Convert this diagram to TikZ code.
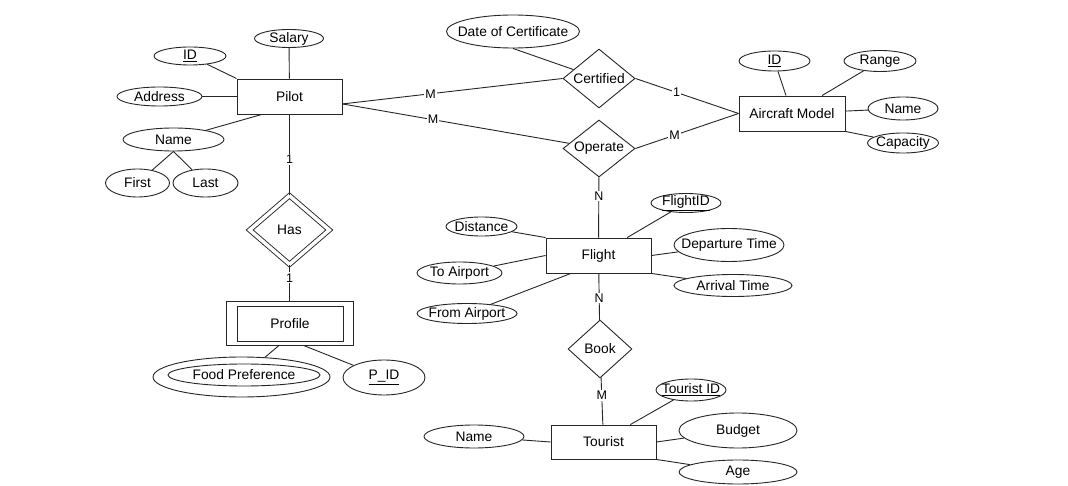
\documentclass[tikz,border=0pt]{standalone}
\usepackage{fontspec}
\setmainfont{Liberation Sans}
\usetikzlibrary{shapes.geometric}
\newcommand\mainsz{\fontsize{13.8}{16}\selectfont}
\newcommand\cardsz{\fontsize{12.5}{14}\selectfont}
\tikzset{
  ln/.style={draw=black!85, line width=0.9pt},
  ent/.style={ln, rectangle, minimum width=105pt, minimum height=35pt, inner sep=0pt},
  att/.style={ln, ellipse, inner sep=0pt},
  rel/.style={ln, diamond, inner sep=0pt},
  card/.style={fill=white, inner sep=1pt, font=\cardsz},
  conn/.style={ln},
  every node/.style={font=\mainsz, text=black}
}
\begin{document}
\begin{tikzpicture}[x=1pt,y=-1pt]
\fill[white] (0,0) rectangle (1068,486);
\useasboundingbox (0,0) rectangle (1068,486);

% Pilot
\node[ent] (pilot) at (289.5,96.5) {Pilot};
\node[att, minimum width=69pt, minimum height=18pt, label={center:Salary}] (salary) at (289,38.5) {};
\node[att, minimum width=72pt, minimum height=18pt, label={center:\underline{ID}}] (pid) at (190,56) {};
\node[att, minimum width=85pt, minimum height=19pt, label={center:Address}] (addr) at (159.5,96.5) {};
\node[att, minimum width=101pt, minimum height=23pt, label={center:Name}] (pname) at (173.5,139.5) {};
\node[att, minimum width=64pt, minimum height=28pt, label={center:First}] (first) at (137.5,183) {};
\node[att, minimum width=65pt, minimum height=28pt, label={center:Last}] (last) at (205.5,183) {};

% Has / Profile
\node[rel, double, double distance=3.5pt, minimum width=80pt, minimum height=69pt, label={center:Has}] (has) at (289.5,230) {};
\node[ln, rectangle, minimum width=127pt, minimum height=44pt, inner sep=0pt] (profile) at (289.5,323) {};
\node[ln, rectangle, minimum width=106pt, minimum height=35pt, inner sep=0pt] (profin) at (290,323.5) {Profile};
\node[att, minimum width=177pt, minimum height=40pt] (food) at (241.5,377) {};
\node[att, minimum width=152pt, minimum height=22pt, label={center:Food Preference}] (foodin) at (244,375) {};
\node[att, minimum width=82pt, minimum height=35pt, label={center:\underline{P\_ID}}] (pkey) at (384,377.5) {};

% Relationships top
\node[rel, minimum width=72pt, minimum height=59pt, label={center:Certified}] (cert) at (599,78.5) {};
\node[rel, minimum width=72pt, minimum height=57pt, label={center:Operate}] (op) at (599,148.5) {};
\node[att, minimum width=133pt, minimum height=33pt, label={center:Date of Certificate}] (date) at (513,31.5) {};

% Aircraft Model
\node[ent, minimum width=106pt] (am) at (792,113.5) {Aircraft Model};
\node[att, minimum width=71pt, minimum height=20pt, label={center:\underline{ID}}] (amid) at (774.5,61) {};
\node[att, minimum width=72pt, minimum height=21pt, label={center:Range}] (range) at (880,61) {};
\node[att, minimum width=70pt, minimum height=23pt, label={center:Name}] (amname) at (903,108.5) {};
\node[att, minimum width=71pt, minimum height=20pt, label={center:Capacity}] (cap) at (903,143) {};

% Flight
\node[ent] (flight) at (598.5,255.5) {Flight};
\node[att, minimum width=70pt, minimum height=19pt, label={center:\underline{FlightID}}] (fid) at (686,203) {};
\node[att, minimum width=71pt, minimum height=19pt, label={center:Distance}] (dist) at (481.5,226.5) {};
\node[att, minimum width=110pt, minimum height=33pt, label={center:Departure Time}] (dep) at (729,245) {};
\node[att, minimum width=118pt, minimum height=22pt, label={center:Arrival Time}] (arr) at (733,285.5) {};
\node[att, minimum width=85pt, minimum height=22pt, label={center:To Airport}] (toap) at (459.5,273) {};
\node[att, minimum width=100pt, minimum height=20pt, label={center:From Airport}] (fromap) at (467,313.5) {};

% Book / Tourist
\node[rel, minimum width=64pt, minimum height=58pt, label={center:Book}] (book) at (600,349) {};
\node[ent, minimum height=34pt] (tourist) at (603.5,442) {Tourist};
\node[att, minimum width=100pt, minimum height=23pt, label={center:Name}] (tname) at (474,436.5) {};
\node[att, minimum width=70pt, minimum height=22pt, label={center:\underline{Tourist ID}}] (tid) at (691,390) {};
\node[att, minimum width=118pt, minimum height=35pt, label={center:Budget}] (budget) at (738,430.5) {};
\node[att, minimum width=118pt, minimum height=24pt, label={center:Age}] (age) at (738,472) {};

% Connectors: Pilot
\draw[conn] (pid) -- (pilot.north west);
\draw[conn] (addr) -- (pilot);
\draw[conn] (pname) -- (pilot.213);
\draw[conn] (salary) -- (pilot);
\draw[conn] (pname.south) -- (first);
\draw[conn] (pname.south) -- (last);
\draw[conn] (pilot) -- node[card,pos=0.56]{1} (has);
\draw[conn] (has) -- node[card,pos=0.36]{1} (profile);
\draw[conn] (profile.245) -- (food);
\draw[conn] (profile.-58) -- (pkey);

% Relationships
\draw[conn] (pilot.-8) -- node[card,pos=0.4]{M} (cert.west);
\draw[conn] (pilot.-8) -- node[card,pos=0.4]{M} (op);
\draw[conn] (date.south) -- (cert);
\draw[conn] (cert.east) -- node[card,pos=0.4]{1} (am.west);
\draw[conn] (op.east) -- node[card,pos=0.38]{M} (am.west);
\draw[conn] (amid) -- (am);
\draw[conn] (range) -- (am);
\draw[conn] (amname) -- (am);
\draw[conn] (cap) -- (am.south east);
\draw[conn] (op) -- node[card,pos=0.31]{N} (flight);
\draw[conn] (flight) -- node[card,pos=0.53]{N} (book);
\draw[conn] (book) -- node[card,pos=0.38]{M} (tourist);

% Flight attributes
\draw[conn] (dist) -- (flight.north west);
\draw[conn] (toap) -- (flight.west);
\draw[conn] (fromap) -- (flight.213);
\draw[conn] (fid) -- (flight.32);
\draw[conn] (dep) -- (flight.east);
\draw[conn] (arr) -- (flight.south east);

% Tourist attributes
\draw[conn] (tname) -- (tourist.west);
\draw[conn] (tid) -- (tourist.33);
\draw[conn] (budget) -- (tourist.east);
\draw[conn] (age) -- (tourist.south east);
\end{tikzpicture}
\end{document}
